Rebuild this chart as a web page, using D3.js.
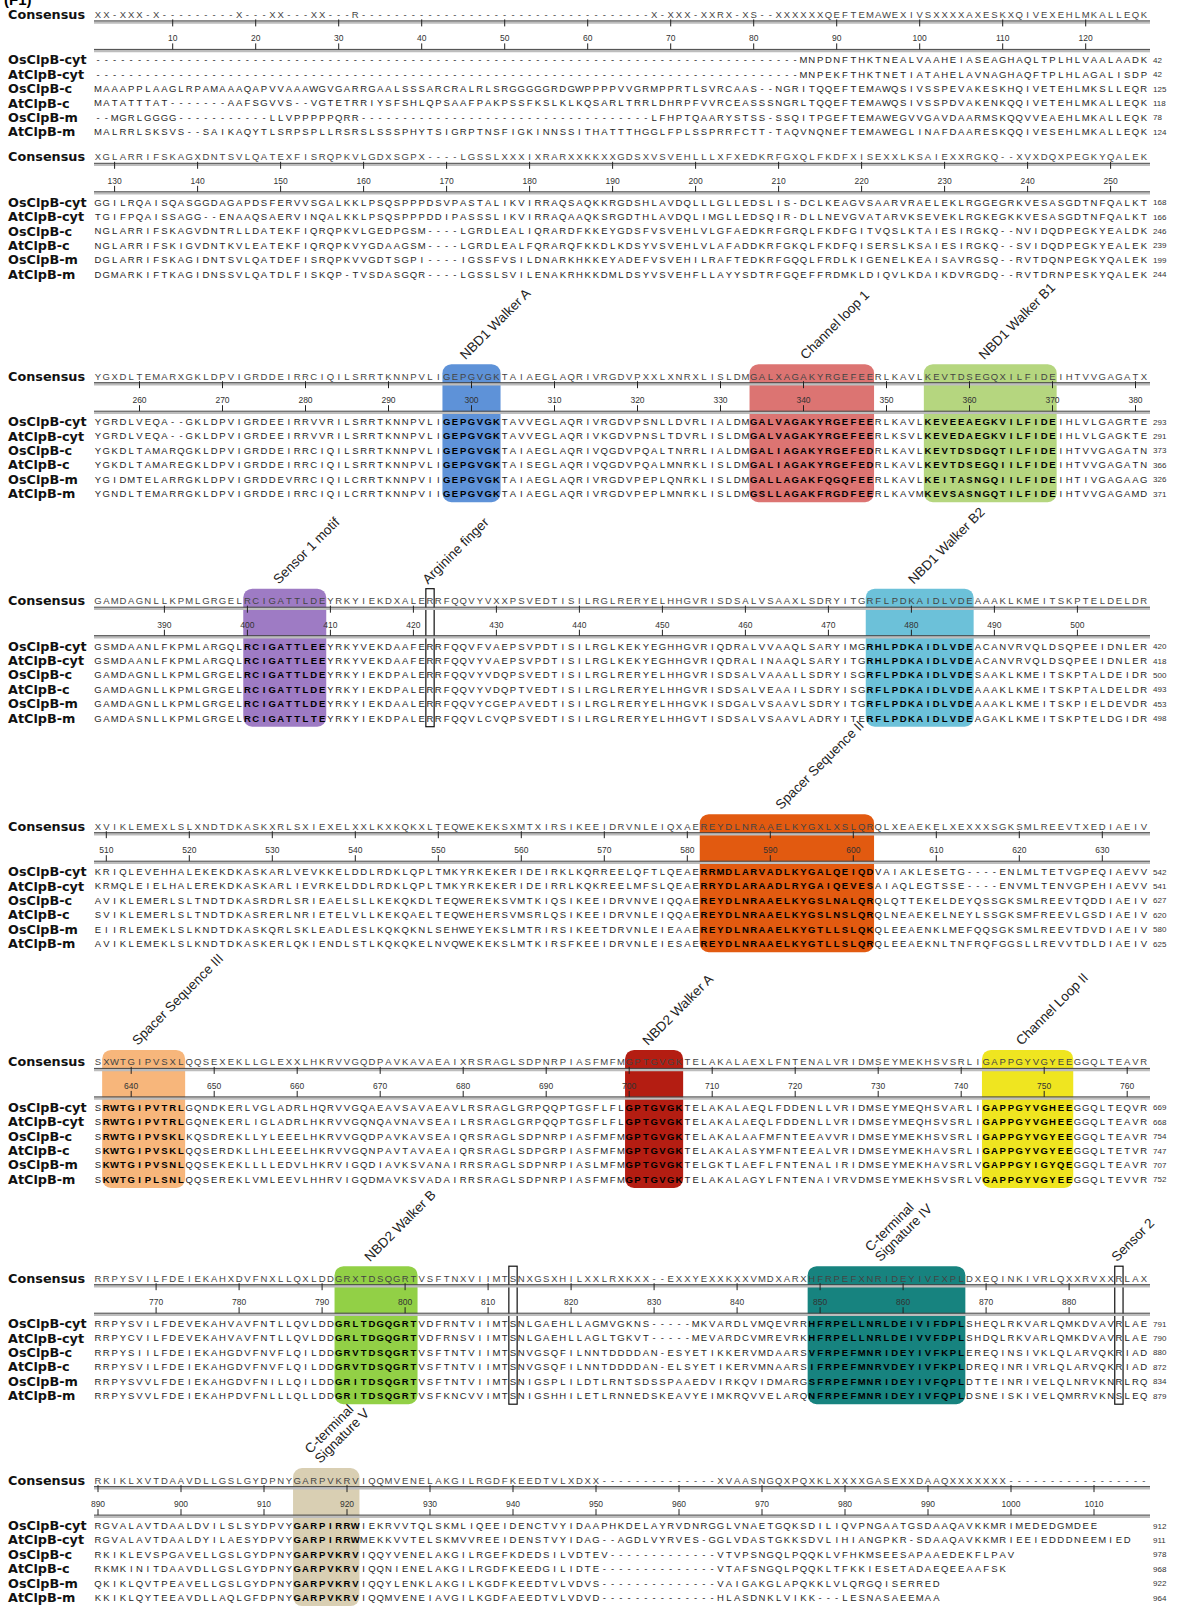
<!DOCTYPE html>
<html>
<head>
<meta charset="utf-8">
<script src="https://cdn.jsdelivr.net/npm/d3@7"></script>
<style>
  body { margin: 0; background: #fff; }
  text { font-family: "Liberation Sans", Arial, sans-serif; }
  .nm { font-family: "DejaVu Sans", sans-serif; font-weight: bold; font-size: 12.8px; fill: #111; }
  .res { font-size: 9.5px; fill: #262626; text-anchor: middle; }
  .res.hit { fill: #000; font-weight: bold; }
  .cons { font-size: 9.5px; fill: #444; text-anchor: middle; }
  .tick-lab { font-size: 8.5px; fill: #333; text-anchor: middle; }
  .endn { font-size: 8px; fill: #333; }
  .mlab { font-size: 13.5px; fill: #222; }
</style>
</head>
<body>
<div id="chart"></div>
<script>
// ---- data ----
const seqNames = ["OsClpB-cyt", "AtClpB-cyt", "OsClpB-c", "AtClpB-c", "OsClpB-m", "AtClpB-m"];
const blockStart = [1, 128, 255, 382, 509, 636, 763, 890];

const consensus = [
  "XX-XXX-X---------X---XX---XX---R-----------------------------------X-XXX-XXRX-XS--XXXXXXQEFTEMAWEXIVSXXXXAXESKXQIVEXEHLMKALLEQK",
  "XGLARRIFSKAGXDNTSVLQATEXFISRQPKVLGDXSGPX----LGSSLXXXIXRARXXKKXXGDSXVSVEHLLLXFXEDKRFGXQLFKDFXISEXXLKSAIEXXRGKQ--XVXDQXPEGKYQALEK",
  "YGXDLTEMARXGKLDPVIGRDDEIRRCIQILSRRTKNNPVLIGEPGVGKTAIAEGLAQRIVRGDVPXXLXNRXLISLDMGALXAGAKYRGEFEERLKAVLKEVTDSEGQXILFIDEIHTVVGAGATX",
  "GAMDAGNLLKPMLGRGELRCIGATTLDEYRKYIEKDXALERRFQQVYVXXPSVEDTISILRGLRERYELHHGVRISDSALVSAAXLSDRYITGRFLPDKAIDLVDEAAAKLKMEITSKPTELDELDR",
  "XVIKLEMEXLSLXNDTDKASKXRLSXIEXELXXLKXKQKXLTEQWEKEKSXMTXIRSIKEEIDRVNLEIQXAEREYDLNRAAELKYGXLXSLQRQLXEAEKELXEXXXSGKSMLREEVTXEDIAEIV",
  "SXWTGIPVSXLQQSEXEKLLGLEXXLHKRVVGQDPAVKAVAEAIXRSRAGLSDPNRPIASFMFMGPTGVGKTELAKALAEXLFNTENALVRIDMSEYMEKHSVSRLIGAPPGYVGYEEGGQLTEAVR",
  "RRPYSVILFDEIEKAHXDVFNXLLQXLDDGRXTDSQGRTVSFTNXVIIMTSNXGSXHILXXLRXKXX--EXXYEXXKXXVMDXARXHFRPEFXNRIDEYIVFXPLDXEQINKIVRLQXXRVXXRLAX",
  "RKIKLXVTDAAVDLLGSLGYDPNYGARPVKRVIQQMVENELAKGILRGDFKEEDTVLXDXX--------------XVAASNGQXPQXKLXXXXGASEXXDAAQXXXXXXX-----------------"
];

const osCyt = [
  "-------------------------------------------------------------------------------------MNPDNFTHKTNEALVAAHEIASEAGHAQLTPLHLVAALAADK",
  "GGILRQAISQASGGDAGAPDSFERVVSGALKKLPSQSPPPDSVPASTALIKVIRRAQSAQKKRGDSHLAVDQLLLGLLEDSLIS-DCLKEAGVSAARVRAELEKLRGGEGRKVESASGDTNFQALKT",
  "YGRDLVEQA--GKLDPVIGRDEEIRRVVRILSRRTKNNPVLIGEPGVGKTAVVEGLAQRIVRGDVPSNLLDVRLIALDMGALVAGAKYRGEFEERLKAVLKEVEEAEGKVILFIDEIHLVLGAGRTE",
  "GSMDAANLFKPMLARGQLRCIGATTLEEYRKYVEKDAAFERRFQQVFVAEPSVPDTISILRGLKEKYEGHHGVRIQDRALVVAAQLSARYIMGRHLPDKAIDLVDEACANVRVQLDSQPEEIDNLER",
  "KRIQLEVEHHALEKEKDKASKARLVEVKKELDDLRDKLQPLTMKYRKEKERIDEIRKLKQRREELQFTLQEAERRMDLARVADLKYGALQEIQDVAIAKLESETG----ENLMLTETVGPEQIAEVV",
  "SRWTGIPVTRLGQNDKERLVGLADRLHQRVVGQAEAVSAVAEAVLRSRAGLGRPQQPTGSFLFLGPTGVGKTELAKALAEQLFDDENLLVRIDMSEYMEQHSVARLIGAPPGYVGHEEGGQLTEQVR",
  "RRPYSVILFDEVEKAHVAVFNTLLQVLDDGRLTDGQGRTVDFRNTVIIMTSNLGAEHLLAGMVGKNS-----MKVARDLVMQEVRRHFRPELLNRLDEIVIFDPLSHEQLRKVARLQMKDVAVRLAE",
  "RGVALAVTDAALDVILSLSYDPVYGARPIRRWIEKRVVTQLSKMLIQEEIDENCTVYIDAAPHKDELAYRVDNRGGLVNAETGQKSDILIQVPNGAATGSDAAQAVKKMRIMEDEDGMDEE"
];
const atCyt = [
  "-------------------------------------------------------------------------------------MNPEKFTHKTNETIATAHELAVNAGHAQFTPLHLAGALISDP",
  "TGIFPQAISSAGG--ENAAQSAERVINQALKKLPSQSPPPDDIPASSSLIKVIRRAQAAQKSRGDTHLAVDQLIMGLLEDSQIR-DLLNEVGVATARVKSEVEKLRGKEGKKVESASGDTNFQALKT",
  "YGRDLVEQA--GKLDPVIGRDEEIRRVVRILSRRTKNNPVLIGEPGVGKTAVVEGLAQRIVKGDVPNSLTDVRLISLDMGALVAGAKYRGEFEERLKSVLKEVEDAEGKVILFIDEIHLVLGAGKTE",
  "GSMDAANLFKPMLARGQLRCIGATTLEEYRKYVEKDAAFERRFQQVYVAEPSVPDTISILRGLKEKYEGHHGVRIQDRALINAAQLSARYITGRHLPDKAIDLVDEACANVRVQLDSQPEEIDNLER",
  "KRMQLEIELHALEREKDKASKARLIEVRKELDDLRDKLQPLTMKYRKEKERIDEIRRLKQKREELMFSLQEAERRYDLARAADLRYGAIQEVESAIAQLEGTSSE----ENVMLTENVGPEHIAEVV",
  "SRWTGIPVTRLGQNEKERLIGLADRLHKRVVGQNQAVNAVSEAILRSRAGLGRPQQPTGSFLFLGPTGVGKTELAKALAEQLFDDENLLVRIDMSEYMEQHSVSRLIGAPPGYVGHEEGGQLTEAVR",
  "RRPYCVILFDEVEKAHVAVFNTLLQVLDDGRLTDGQGRTVDFRNSVIIMTSNLGAEHLLAGLTGKVT-----MEVARDCVMREVRKHFRPELLNRLDEIVVFDPLSHDQLRKVARLQMKDVAVRLAE",
  "RGVALAVTDAALDYILAESYDPVYGARPIRRWMEKKVVTELSKMVVREEIDENSTVYIDAG--AGDLVYRVES-GGLVDASTGKKSDVLIHIANGPKR-SDAAQAVKKMRIEEIEDDDNEEMIED"
];
const osC = [
  "MAAAPPLAAGLRPAMAAAQAPVVAAAWGVGARRGAALSSSARCRALRLSRGGGGGRDGWPPPPVVGRMPPRTLSVRCAAS--NGRITQQEFTEMAWQSIVSSPEVAKESKHQIVETEHLMKSLLEQR",
  "NGLARRIFSKAGVDNTRLLDATEKFIQRQPKVLGEDPGSM----LGRDLEALIQRARDFKKEYGDSFVSVEHLVLGFAEDKRFGRQLFKDFGITVQSLKTAIESIRGKQ--NVIDQDPEGKYEALDK",
  "YGKDLTAMARQGKLDPVIGRDDEIRRCIQILSRRTKNNPVLIGEPGVGKTAIAEGLAQRIVQGDVPQALTNRRLIALDMGALIAGAKYRGEFEDRLKAVLKEVTDSDGQTILFIDEIHTVVGAGATN",
  "GAMDAGNLLKPMLGRGELRCIGATTLDEYRKYIEKDPALERRFQQVYVDQPSVEDTISILRGLRERYELHHGVRISDSALVAAALLSDRYISGRFLPDKAIDLVDESAAKLKMEITSKPTALDEIDR",
  "AVIKLEMERLSLTNDTDKASRDRLSRIEAELSLLKEKQKDLTEQWEREKSVMTKIQSIKEEIDRVNVEIQQAEREYDLNRAAELKYGSLNALQRQLQTTEKELDEYQSSGKSMLREEVTQDDIAEIV",
  "SRWTGIPVSKLKQSDREKLLYLEEELHKRVVGQDPAVKAVSEAIQRSRAGLSDPNRPIASFMFMGPTGVGKTELAKALAAFMFNTEEAVVRIDMSEYMEKHSVSRLIGAPPGYVGYEEGGQLTEAVR",
  "RRPYSIILFDEIEKAHGDVFNVFLQILDDGRVTDSQGRTVSFTNTVIIMTSNVGSQFILNNTDDDDAN-ESYETIKKERVMDAARSVFRPEFMNRIDEYIVFKPLEREQINSIVKLQLARVQKRIAD",
  "RKIKLEVSPGAVELLGSLGYDPNYGARPVKRVIQQYVENELAKGILRGEFKDEDSILVDTEV-------------VTVPSNGQLPQQKLVFHKMSEESAPAAEDEKFLPAV"
];
const atC = [
  "MATATTTAT-------AAFSGVVS--VGTETRRIYSFSHLQPSAAFPAKPSSFKSLKLKQSARLTRRLDHRPFVVRCEASSSNGRLTQQEFTEMAWQSIVSSPDVAKENKQQIVETEHLMKALLEQK",
  "NGLARRIFSKIGVDNTKVLEATEKFIQRQPKVYGDAAGSM----LGRDLEALFQRARQFKKDLKDSYVSVEHLVLAFADDKRFGKQLFKDFQISERSLKSAIESIRGKQ--SVIDQDPEGKYEALEK",
  "YGKDLTAMAREGKLDPVIGRDDEIRRCIQILSRRTKNNPVLIGEPGVGKTAISEGLAQRIVQGDVPQALMNRKLISLDMGALIAGAKYRGEFEDRLKAVLKEVTDSEGQIILFIDEIHTVVGAGATN",
  "GAMDAGNLLKPMLGRGELRCIGATTLDEYRKYIEKDPALERRFQQVYVDQPTVEDTISILRGLRERYELHHGVRISDSALVEAAILSDRYISGRFLPDKAIDLVDEAAAKLKMEITSKPTALDELDR",
  "SVIKLEMERLSLTNDTDKASRERLNRIETELVLLKEKQAELTEQWEHERSVMSRLQSIKEEIDRVNLEIQQAEREYDLNRAAELKYGSLNSLQRQLNEAEKELNEYLSSGKSMFREEVLGSDIAEIV",
  "SKWTGIPVSKLQQSERDKLLHLEEELHKRVVGQNPAVTAVAEAIQRSRAGLSDPGRPIASFMFMGPTGVGKTELAKALASYMFNTEEALVRIDMSEYMEKHAVSRLIGAPPGYVGYEEGGQLTETVR",
  "RRPYSVILFDEIEKAHGDVFNVFLQILDDGRVTDSQGRTVSFTNTVIIMTSNVGSQFILNNTDDDDAN-ELSYETIKERVMNAARSIFRPEFMNRVDEYIVFKPLDREQINRIVRLQLARVQKRIAD",
  "RKMKINITDAAVDLLGSLGYDPNYGARPVKRVIQQNIENELAKGILRGDFKEEDGILIDTE--------------VTAFSNGQLPQQKLTFKKIESETADAEQEEAAFSK"
];
const osM = [
  "--MGRLGGGG-----------LLVPPPPPQRR-----------------------------------LFHPTQAARYSTSS-SSQITPGEFTEMAWEGVVGAVDAARMSKQQVVEAEHLMKALLEQK",
  "DGLARRIFSKAGIDNTSVLQATDEFISRQPKVVGDTSGPI----IGSSFVSILDNARKHKKEYADEFVSVEHILRAFTEDKRFGQQLFRDLKIGENELKEAISAVRGSQ--RVTDQNPEGKYQALEK",
  "YGIDMTELARRGKLDPVIGRDDEVRRCIQILCRRTKNNPVIIGEPGVGKTAIAEGLAQRIVRGDVPEPLQNRKLISLDMGALLAGAKFQGQFEERLKAVLKEITASNGQIILFIDEIHTIVGAGAAG",
  "GAMDAGNLLKPMLGRGELRCIGATTLDEYRKYIEKDAALERRFQQVYCGEPAVEDTISILRGLRERYELHHGVKISDGALVSAAVLSDRYITGRFLPDKAIDLVDEAAAKLKMEITSKPIELDEVDR",
  "EIIRLEMEKLSLKNDTDKASKQRLSKLEADLESLKQKQKNLSEHWEYEKSLMTRIRSIKEETDRVNLEIEAAEREYDLNRAAELKYGTLLSLQKQLEEAENKLMEFQQSGKSMLREEVTDVDIAEIV",
  "SKWTGIPVSNLQQSEKEKLLLLEDVLHKRVIGQDIAVKSVANAIRRSRAGLSDPNRPIASLMFMGPTGVGKTELGKTLAEFLFNTENALIRIDMSEYMEKHAVSRLVGAPPGYIGYQEGGQLTEAVR",
  "RRPYSVVLFDEIEKAHGDVFNILLQILDDGRITDSQGRTVSFTNTVIIMTSNIGSPLILDTLRNTSDSSPAAEDVIRKQVIDMARGSFRPEFMNRIDEYIVFQPLDTTEINRIVELQLNRVKNRLRQ",
  "QKIKLQVTPEAVELLGSLGYDPNYGARPVKRVIQQYLENKLAKGILKGDFKEEDTVLVDVS--------------VAIGAKGLAPQKKLVLQRGQISERRED"
];
const atM = [
  "MALRRLSKSVS--SAIKAQYTLSRPSPLLRSRSLSSSPHYTSIGRPTNSFIGKINNSSITHATTTHGGLFPLSSPRRFCTT-TAQVNQNEFTEMAWEGLINAFDAARESKQQIVESEHLMKALLEQK",
  "DGMARKIFTKAGIDNSSVLQATDLFISKQP-TVSDASGQR----LGSSLSVILENAKRHKKDMLDSYVSVEHFLLAYYSDTRFGQEFFRDMKLDIQVLKDAIKDVRGDQ--RVTDRNPESKYQALEK",
  "YGNDLTEMARRGKLDPVIGRDDEIRRCIQILCRRTKNNPVIIGEPGVGKTAIAEGLAQRIVRGDVPEPLMNRKLISLDMGSLLAGAKFRGDFEERLKAVMKEVSASNGQTILFIDEIHTVVGAGAMD",
  "GAMDASNLLKPMLGRGELRCIGATTLTEYRKYIEKDPALERRFQQVLCVQPSVEDTISILRGLRERYELHHGVTISDSALVSAAVLADRYITERFLPDKAIDLVDEAGAKLKMEITSKPTELDGIDR",
  "AVIKLEMEKLSLKNDTDKASKERLQKIENDLSTLKQKQKELNVQWEKEKSLMTKIRSFKEEIDRVNLEIESAEREYDLNRAAELKYGTLLSLQRQLEEAEKNLTNFRQFGGSLLREVVTDLDIAEIV",
  "SKWTGIPLSNLQQSEREKLVMLEEVLHHRVIGQDMAVKSVADAIRRSRAGLSDPNRPIASFMFMGPTGVGKTELAKALAGYLFNTENAIVRVDMSEYMEKHSVSRLVGAPPGYVGYEEGGQLTEVVR",
  "RRPYSVVLFDEIEKAHPDVFNLLLQLLDDGRITDSQGRTVSFKNCVVIMTSNIGSHHILETLRNNEDSKEAVYEIMKRQVVELARQNFRPEFMNRIDEYIVFQPLDSNEISKIVELQMRRVKNSLEQ",
  "KKIKLQYTEEAVDLLAQLGFDPNYGARPVKRVIQQMVENEIAVGILKGDFAEEDTVLVDVD--------------HLASDNKLVIKK---LESNASAEEMAA"
];

// residue number at the end of each line
const endOsCyt = [42, 168, 293, 420, 542, 669, 791, 912];
const endAtCyt = [42, 166, 291, 418, 541, 668, 790, 911];
const endOsC   = [125, 246, 373, 500, 627, 754, 880, 978];
const endAtC   = [118, 239, 366, 493, 620, 747, 872, 968];
const endOsM   = [78, 199, 326, 453, 580, 707, 834, 922];
const endAtM   = [124, 244, 371, 498, 625, 752, 879, 964];

// highlighted motifs (alignment positions)
const motifNames = ["NBD1 Walker A", "Channel loop 1", "NBD1 Walker B1", "Sensor 1 motif", "NBD1 Walker B2",
  "Spacer Sequence II", "Spacer Sequence III", "NBD2 Walker A", "Channel Loop II", "NBD2 Walker B",
  "C-terminal|Signature IV", "C-terminal|Signature V"];
const motifFrom = [297, 334, 355, 400, 475, 582, 637, 700, 743, 792, 849, 914];
const motifTo   = [303, 348, 370, 409, 487, 602, 646, 706, 753, 801, 867, 921];
const motifColors = ["#5e92d8", "#dc7472", "#b5d67f", "#9e7bc4", "#6cc1d9",
  "#e25a10", "#f7b67b", "#b41d12", "#efe520", "#92d046", "#17837f", "#d9cfb3"];

// single-column framed residues
const frameNames = ["Arginine finger", "", "Sensor 2"];
const framePos = [422, 813, 886];

// ---- layout ----
const W = 1187, H = 1607, nCols = 127;
const blockY = [14.4, 156.8, 376.2, 600.7, 826.2, 1061.9, 1278.2, 1480.1];

const x = d3.scaleLinear().domain([1, nCols]).range([98, 98 + 126 * 8.3]);
const cell = x(2) - x(1);
const rowY = d3.scaleLinear().domain([0, 5]).range([45.5, 45.5 + 5 * 14.4]);
const lineL = 94, lineR = 1150;

const svg = d3.select("#chart").append("svg")
  .attr("width", W).attr("height", H)
  .attr("viewBox", [0, 0, W, H]);

svg.append("text").attr("x", 4).attr("y", 5)
  .attr("font-family", "DejaVu Sans").attr("font-weight", "bold").attr("font-size", 15)
  .text("(F1)");

const rows = [osCyt, atCyt, osC, atC, osM, atM];
const ends = [endOsCyt, endAtCyt, endOsC, endAtC, endOsM, endAtM];

function inMotif(pos) {
  return motifFrom.some((f, i) => pos >= f && pos <= motifTo[i]);
}

blockStart.forEach((start, b) => {
  const g = svg.append("g").attr("transform", `translate(0,${blockY[b]})`);
  const stop = start + nCols - 1;
  const col = pos => x(pos - start + 1);

  // motif boxes
  motifFrom.forEach((f, i) => {
    if (f < start || f > stop) return;
    const x0 = col(f) - cell / 2, x1 = col(motifTo[i]) + cell / 2;
    g.append("rect")
      .attr("x", x0).attr("y", -12)
      .attr("width", x1 - x0).attr("height", 138)
      .attr("rx", 9).attr("fill", motifColors[i]);
    const cx = (x0 + x1) / 2;
    const parts = motifNames[i].split("|");
    const t = g.append("text").attr("class", "mlab")
      .attr("transform", `translate(${cx - 6},-16) rotate(-45)`);
    parts.forEach((p, k) => {
      t.append("tspan").attr("x", 0).attr("y", (k - parts.length + 1) * 14).text(p);
    });
  });

  // framed residues
  framePos.forEach((p, i) => {
    if (p < start || p > stop) return;
    g.append("rect")
      .attr("x", col(p) - cell / 2).attr("y", -12)
      .attr("width", cell).attr("height", 138)
      .attr("fill", "none").attr("stroke", "#111").attr("stroke-width", 1.2);
    if (frameNames[i]) {
      g.append("text").attr("class", "mlab")
        .attr("transform", `translate(${col(p) - 2},-16) rotate(-45)`)
        .text(frameNames[i]);
    }
  });

  // consensus
  g.append("text").attr("class", "nm").attr("x", 8).attr("y", 4.5).text("Consensus");
  g.append("g").selectAll("text")
    .data(consensus[b].split("").map((c, i) => ({ c, i })).filter(d => d.c !== " "))
    .join("text").attr("class", "cons")
    .attr("x", d => x(d.i + 1)).attr("y", 3.5)
    .text(d => d.c);

  // ruler
  const ticks = d3.range(Math.ceil(start / 10) * 10, stop + 1, 10);
  [6.5, 35].forEach(ly => {
    g.append("line").attr("x1", lineL).attr("x2", lineR).attr("y1", ly + 1.6).attr("y2", ly + 1.6)
      .attr("stroke", "#bdbdbd").attr("stroke-width", 2.4);
    g.append("line").attr("x1", lineL).attr("x2", lineR).attr("y1", ly).attr("y2", ly)
      .attr("stroke", "#444").attr("stroke-width", 1);
  });
  g.append("g").selectAll("line").data(ticks).join("line")
    .attr("x1", d => col(d)).attr("x2", d => col(d))
    .attr("y1", 5).attr("y2", 12).attr("stroke", "#222").attr("stroke-width", 1);
  g.append("g").selectAll("line").data(ticks).join("line")
    .attr("x1", d => col(d)).attr("x2", d => col(d))
    .attr("y1", 29).attr("y2", 35).attr("stroke", "#222").attr("stroke-width", 1);
  g.append("g").selectAll("text").data(ticks).join("text")
    .attr("class", "tick-lab").attr("x", d => col(d)).attr("y", 27).text(d => d);

  // sequences
  rows.forEach((r, k) => {
    const y = rowY(k);
    g.append("text").attr("class", "nm").attr("x", 8).attr("y", y + 4.5).text(seqNames[k]);
    const chars = r[b].slice(0, nCols).split("").map((c, i) => ({ c, i })).filter(d => d.c !== " ");
    g.append("g").selectAll("text").data(chars).join("text")
      .attr("class", d => "res" + (inMotif(start + d.i) && d.c !== "-" ? " hit" : ""))
      .attr("x", d => x(d.i + 1)).attr("y", y + 3.4)
      .text(d => d.c);
    g.append("text").attr("class", "endn").attr("x", 1153).attr("y", y + 3).text(ends[k][b]);
  });
});
</script>
</body>
</html>
